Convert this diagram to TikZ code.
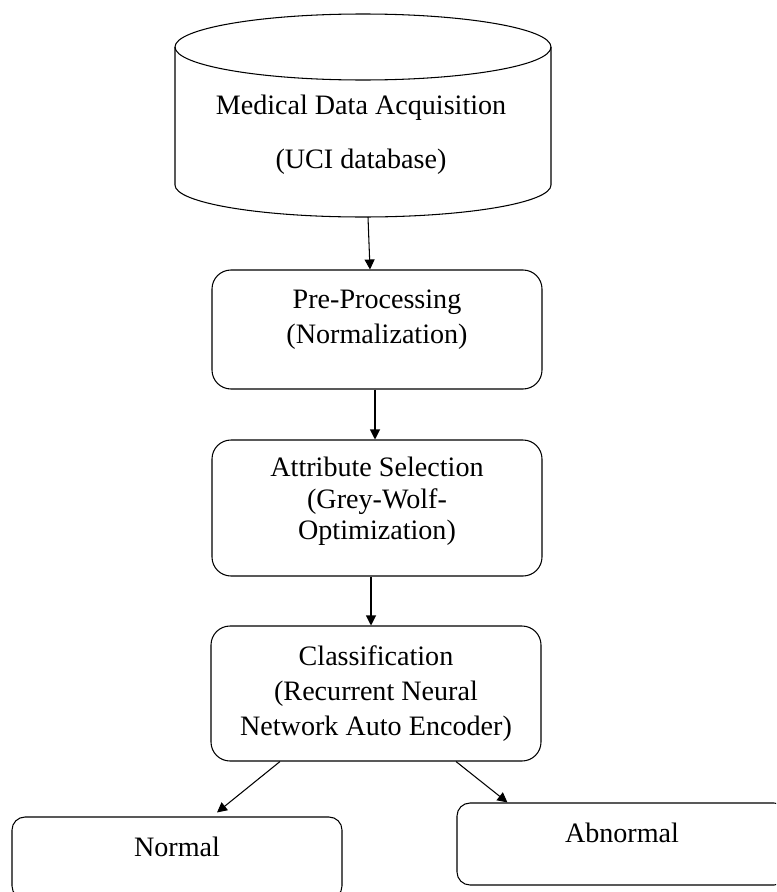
\documentclass[tikz,border=0pt]{standalone}
\usepackage{fontspec}
\setmainfont{Liberation Serif}
\usetikzlibrary{arrows.meta, positioning}

\begin{document}
\begin{tikzpicture}[
    font=\fontsize{16}{20}\selectfont,
    stage/.style={draw, rounded corners=0.38cm, line width=0.6pt, minimum width=6.6cm, inner sep=0pt},
    leaf/.style={draw, rounded corners=0.26cm, line width=0.6pt, minimum width=6.6cm, minimum height=1.64cm, inner sep=0pt},
    txt/.style={align=center, inner sep=0pt},
    flow/.style={-{Triangle[length=0.2cm,width=0.2cm]}, line width=0.6pt}
]
    \clip (0,0) rectangle (15.52,-17.84);
    % database cylinder
    \draw[line width=0.6pt] (3.5,-0.94) -- (3.5,-3.70) arc[start angle=180, end angle=360, x radius=3.76, y radius=0.64] -- (11.02,-0.94);
    \draw[line width=0.6pt] (7.26,-0.94) ellipse [x radius=3.76, y radius=0.66];
    \node[txt] (db) at (7.22,-2.69) {Medical Data Acquisition\\[11pt](UCI database)};
    \coordinate (dbout) at (7.36,-4.34);

    \node[stage, minimum height=2.38cm] (pre) at (7.54,-6.59) {};
    \node[txt] (pre-t) at ([yshift=0.2cm]pre.center) {Pre-Processing\\(Normalization)};
    \node[stage, minimum height=2.72cm] (attr) at (7.54,-10.16) {};
    \node[txt] (attr-t) at ([yshift=0.13cm]attr.center) {Attribute Selection\\[-2pt](Grey-Wolf-\\[-2pt]Optimization)};
    \node[stage, minimum height=2.70cm] (cls) at (7.52,-13.87) {};
    \node[txt] (cls-t) at (cls.center) {Classification\\(Recurrent Neural\\Network Auto Encoder)};

    % outcomes
    \node[leaf] (normal) at (3.54,-17.16) {};
    \node[txt] (normal-t) at ([yshift=0.22cm]normal.center) {Normal};
    \node[leaf] (abnormal) at (12.44,-16.88) {};
    \node[txt] (abnormal-t) at ([yshift=0.22cm]abnormal.center) {Abnormal};

    \draw[flow] (dbout) -- ([xshift=-0.14cm]pre.north);
    \draw[flow] ([xshift=-0.04cm]pre.south) -- ([xshift=-0.04cm]attr.north);
    \draw[flow] ([xshift=-0.12cm]attr.south) -- ([xshift=-0.1cm]cls.north);
    \draw[flow] ([xshift=-1.92cm]cls.south) -- ([xshift=0.8cm,yshift=0.08cm]normal.north);
    \draw[flow] ([xshift=1.6cm]cls.south) -- ([xshift=1.02cm]abnormal.north west);
\end{tikzpicture}
\end{document}
